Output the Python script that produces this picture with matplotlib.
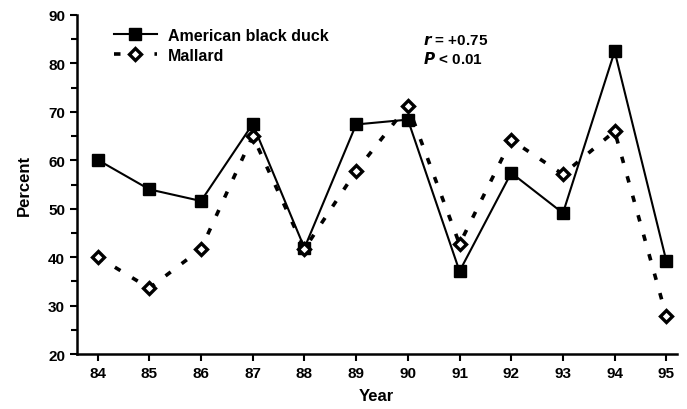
import numpy as np
import matplotlib.pyplot as plt

# data
years = [84, 85, 86, 87, 88, 89, 90, 91, 92, 93, 94, 95]
black_duck = [60.1, 54.0, 51.6, 67.5, 41.9, 67.4, 68.4, 37.1, 57.4, 49.1, 82.5, 39.2]
mallard = [40.1, 33.6, 41.7, 65.0, 41.7, 57.8, 71.3, 42.7, 64.2, 57.1, 66.0, 27.8]

plt.rcParams['font.family'] = ['Liberation Sans Narrow', 'Liberation Sans', 'DejaVu Sans']
plt.rcParams['font.weight'] = 'bold'

fig = plt.figure(figsize=(6.87, 4.10), dpi=100)
ax = fig.add_axes([0.112, 0.134, 0.873, 0.827])

ax.plot(years, black_duck, color='black', lw=1.5, marker='s', ms=8,
        mfc='black', mec='black', label='American black duck', zorder=2)
ax.plot(years, mallard, color='black', lw=2.6, ls=(0, (1.8, 3.8)), marker='D', ms=6.5,
        mfc='white', mec='black', mew=2.4, label='Mallard', zorder=3)

ax.set_xlim(83.6, 95.2)
ax.set_ylim(20, 90)
ax.set_xticks(years)
ax.set_yticks(np.arange(20, 91, 10))
ax.set_yticks(np.arange(25, 90, 10), minor=True)
ax.tick_params(axis='both', labelsize=11, width=1.5, length=5, direction='out')
ax.tick_params(axis='y', which='minor', width=1.5, length=4)
for s in ['top', 'right']:
    ax.spines[s].set_visible(False)
for s in ['left', 'bottom']:
    ax.spines[s].set_linewidth(1.8)

ax.set_xlabel('Year', fontsize=12, fontweight='bold', labelpad=6)
ax.set_ylabel('Percent', fontsize=12, fontweight='bold', labelpad=12)

leg = ax.legend(loc='upper left', bbox_to_anchor=(0.045, 0.99), frameon=False,
                handlelength=2.7, handletextpad=0.7, fontsize=11.5,
                borderaxespad=0.2, labelspacing=0.3)

ax.text(0.577, 0.915, '$\\it{r}$ = +0.75', transform=ax.transAxes, fontsize=11, fontweight='bold')
ax.text(0.577, 0.858, '$\\it{P}$ < 0.01', transform=ax.transAxes, fontsize=11, fontweight='bold')

fig.savefig('out.png', dpi=100)
